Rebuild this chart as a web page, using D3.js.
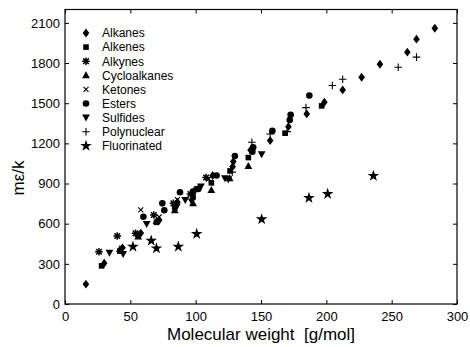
<!DOCTYPE html>
<html>
<head>
  <style>
    body { margin: 0; background: #ffffff; }
    svg { display: block; font-family: Arial, "Liberation Sans", Helvetica, sans-serif; }
  </style>
</head>
<body>
  <div id="chart"></div>

  <script src="https://d3js.org/d3.v7.min.js"></script>
  <script>
    // Series: [molecular weight, m*eps/k]
    var alkanes = [[16,148],[30,305],[44,420],[58,530],[72,625],[86,760],[99.5,852],[113,960],[128.3,1026],[128.8,1064],[142,1150],[157,1221],[171,1325],[185,1420],[198.5,1507],[212.5,1599],[227,1694],[241,1791],[262,1881],[269,1978],[283,2060]];
    var alkenes = [[28,285],[42,395],[56,520],[70,610],[84,720],[98,800],[112,905],[126.3,994],[140.3,1094],[168.4,1276],[196.4,1480]];
    var alkynes = [[26,390],[40,508],[54,528],[68,665],[83,752],[96,822],[108,945]];
    var cycloalkanes = [[42,410],[56,505],[70,620],[84,700],[98,752],[112,852],[126,939],[140.3,1031]];
    var ketones = [[58,703],[72,650],[86,780],[110,935]];
    var esters = [[60,652],[74.5,752],[76,700],[88,835],[98,840],[102,860],[116,960],[130,1106],[143.4,1138],[144,1171],[158.7,1293],[172,1375],[172.7,1413],[187,1557]];
    var sulfides = [[34,383],[44.5,373],[62.5,598],[85.5,727],[92,777],[97,765],[104,877],[122.4,939],[125,932],[150.5,1119]];
    var polynuclear = [[128,985],[143,1208],[157,1270],[170,1288],[184.4,1467],[204.6,1632],[212.5,1679],[255,1769],[269,1844]];
    var fluorinated = [[52,428],[66,473],[70,416],[86.7,428],[100.8,523],[150.5,633],[186.7,792],[201,822],[236,957]];

    var seriesNames = ["Alkanes", "Alkenes", "Alkynes", "Cycloalkanes", "Ketones", "Esters", "Sulfides", "Polynuclear", "Fluorinated"];
    var seriesData = [alkanes, alkenes, alkynes, cycloalkanes, ketones, esters, sulfides, polynuclear, fluorinated];
    var seriesMarkers = ["diamond", "square", "asterisk", "triUp", "cross", "circle", "triDown", "plus", "star"];

    var xTicks = [0, 50, 100, 150, 200, 250, 300];
    var yTicks = [0, 300, 600, 900, 1200, 1500, 1800, 2100];

    var width = 470, height = 347;
    var plotL = 65, plotR = 457, plotT = 9.5, plotB = 304;

    var svg = d3.select("#chart").append("svg")
      .attr("width", width)
      .attr("height", height);

    var x = d3.scaleLinear().domain([0, 300]).range([plotL, plotR]);
    var y = d3.scaleLinear().domain([0, 2200]).range([plotB, plotT]);

    // marker drawing, one function per shape
    function drawMarker(g, type) {
      if (type === "diamond") {
        g.append("path").attr("d", "M0,-4.4L3.3,0L0,4.4L-3.3,0Z").attr("fill", "#000");
      } else if (type === "square") {
        g.append("rect").attr("x", -2.8).attr("y", -2.8).attr("width", 5.6).attr("height", 5.6).attr("fill", "#000");
      } else if (type === "asterisk") {
        g.append("path")
          .attr("d", "M-3.8,0L3.8,0M0,-3.8L0,3.8M-2.8,-2.8L2.8,2.8M-2.8,2.8L2.8,-2.8")
          .attr("stroke", "#000").attr("stroke-width", 1.5).attr("fill", "none");
      } else if (type === "triUp") {
        g.append("path").attr("d", "M0,-4L3.9,3L-3.9,3Z").attr("fill", "#000");
      } else if (type === "triDown") {
        g.append("path").attr("d", "M0,4L3.9,-3L-3.9,-3Z").attr("fill", "#000");
      } else if (type === "cross") {
        g.append("path").attr("d", "M-2.5,-2.5L2.5,2.5M-2.5,2.5L2.5,-2.5")
          .attr("stroke", "#000").attr("stroke-width", 1.1).attr("fill", "none");
      } else if (type === "circle") {
        g.append("circle").attr("r", 3.3).attr("fill", "#000");
      } else if (type === "plus") {
        g.append("path").attr("d", "M-3.8,0L3.8,0M0,-3.8L0,3.8")
          .attr("stroke", "#000").attr("stroke-width", 1.1).attr("fill", "none");
      } else if (type === "star") {
        g.append("path").attr("d", d3.symbol().type(d3.symbolStar).size(42)()).attr("fill", "#000");
      }
    }

    // points
    seriesData.forEach(function(data, i) {
      svg.append("g").selectAll("g")
        .data(data)
        .join("g")
        .attr("transform", function(d) { return "translate(" + x(d[0]) + "," + y(d[1]) + ")"; })
        .each(function() { drawMarker(d3.select(this), seriesMarkers[i]); });
    });

    // axes box with inward ticks on all sides
    svg.append("g").attr("transform", "translate(0," + plotB + ")")
      .call(d3.axisBottom(x).tickValues(xTicks).tickSizeInner(-4).tickSizeOuter(0).tickPadding(8));
    svg.append("g").attr("transform", "translate(0," + plotT + ")")
      .call(d3.axisTop(x).tickValues(xTicks).tickSizeInner(-4).tickSizeOuter(0).tickFormat(""));
    svg.append("g").attr("transform", "translate(" + plotL + ",0)")
      .call(d3.axisLeft(y).tickValues(yTicks).tickSizeInner(-4).tickSizeOuter(0).tickPadding(5).tickFormat(d3.format("d")));
    svg.append("g").attr("transform", "translate(" + plotR + ",0)")
      .call(d3.axisRight(y).tickValues(yTicks).tickSizeInner(-4).tickSizeOuter(0).tickFormat(""));

    svg.selectAll(".domain").remove();
    svg.selectAll(".tick line").attr("stroke", "#000");
    svg.selectAll(".tick text").attr("fill", "#000").style("font-size", "13px");

    svg.append("rect")
      .attr("x", plotL).attr("y", plotT)
      .attr("width", plotR - plotL).attr("height", plotB - plotT)
      .attr("fill", "none").attr("stroke", "#000").attr("stroke-width", 1.2);

    // legend (no box)
    var legend = svg.append("g");
    seriesNames.forEach(function(name, i) {
      var ly = 33 + i * 14.1;
      var m = legend.append("g").attr("transform", "translate(86," + ly + ")");
      drawMarker(m, seriesMarkers[i]);
      legend.append("text")
        .attr("x", 102).attr("y", ly)
        .attr("dy", "0.36em")
        .style("font-size", "12px")
        .text(name);
    });

    // axis labels
    svg.append("text")
      .attr("x", (plotL + plotR) / 2).attr("y", 340)
      .attr("text-anchor", "middle")
      .style("font-size", "17px")
      .style("white-space", "pre")
      .text("Molecular weight  [g/mol]");

    svg.append("text")
      .attr("transform", "translate(24,178) rotate(-90)")
      .attr("text-anchor", "middle")
      .style("font-size", "17px")
      .text("mε/k");
  </script>
</body>
</html>
